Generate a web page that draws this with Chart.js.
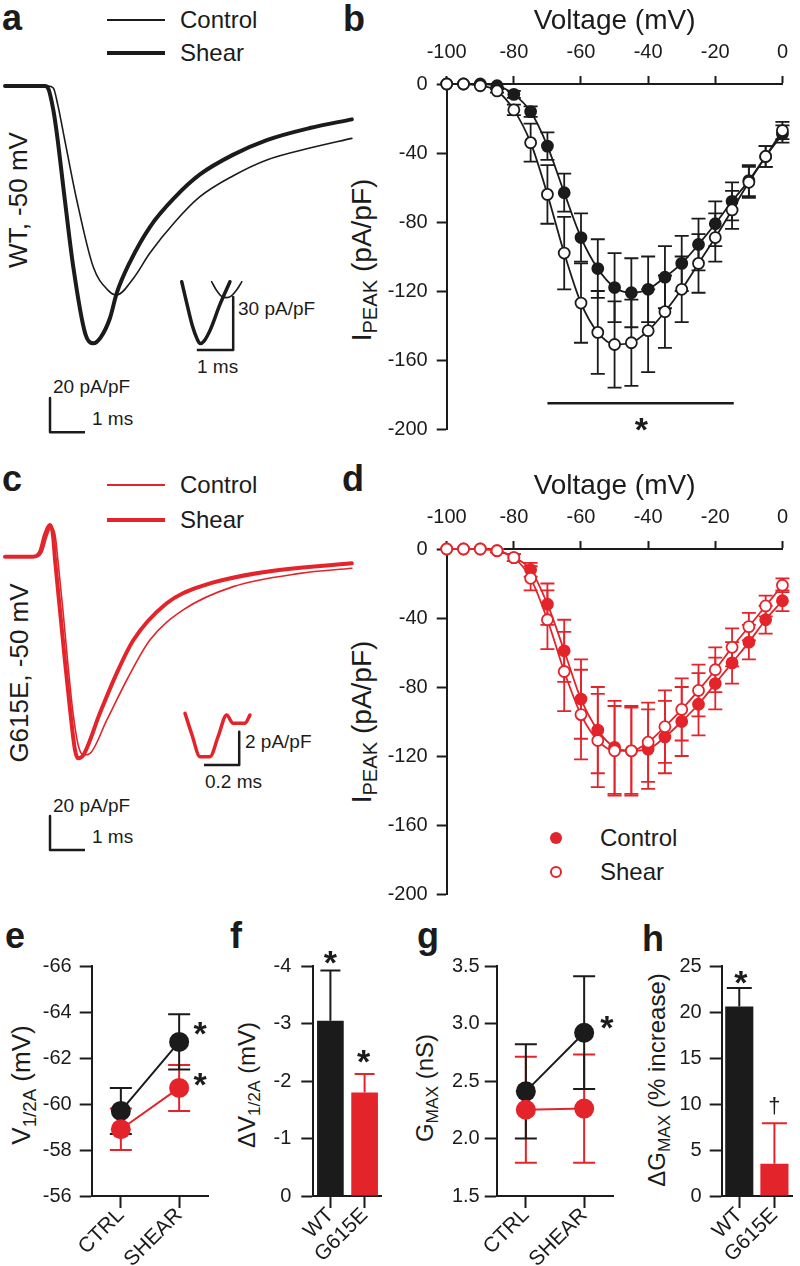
<!DOCTYPE html>
<html>
<head>
<meta charset="utf-8">
<script src="https://cdn.jsdelivr.net/npm/chart.js@4.4.1/dist/chart.umd.min.js"></script>
<style>
  body { margin: 0; background: #fff; }
  #fig { position: relative; width: 800px; height: 1266px; overflow: hidden;
         font-family: 'Liberation Sans', Arial, sans-serif; color: #1b1b1b; }
  #fig canvas { position: absolute; }
  .t { position: absolute; line-height: 1; white-space: nowrap; }
  .lt { font-weight: bold; font-size: 36px; }
  .rot { transform: translate(-50%, -50%) rotate(-90deg); }
  .t sub { font-size: 0.72em; vertical-align: -0.3em; line-height: 0; }
  .sw { position: absolute; }
</style>
</head>
<body>
<div id="fig">
  <!-- panel letters -->
  <div class="t lt" style="left:2px;top:0px">a</div>
  <div class="t lt" style="left:343px;top:1px">b</div>
  <div class="t lt" style="left:2px;top:461px">c</div>
  <div class="t lt" style="left:342px;top:461px">d</div>
  <div class="t lt" style="left:5px;top:918px">e</div>
  <div class="t lt" style="left:230px;top:918px">f</div>
  <div class="t lt" style="left:417px;top:918px">g</div>
  <div class="t lt" style="left:642px;top:921px">h</div>

  <!-- legend a -->
  <div class="sw" style="left:107px;top:19px;width:58px;height:1.6px;background:#1b1b1b"></div>
  <div class="sw" style="left:107px;top:51px;width:58px;height:4px;background:#1b1b1b"></div>
  <div class="t" style="left:180px;top:8px;font-size:24px">Control</div>
  <div class="t" style="left:180px;top:41px;font-size:24px">Shear</div>
  <div class="t rot" style="left:18px;top:200px;font-size:26px">WT, -50 mV</div>
  <div class="t" style="left:238px;top:299px;font-size:19px">30 pA/pF</div>
  <div class="t" style="left:197px;top:357px;font-size:19px">1 ms</div>
  <div class="t" style="left:53px;top:377px;font-size:19px">20 pA/pF</div>
  <div class="t" style="left:92px;top:409px;font-size:19px">1 ms</div>

  <!-- legend c -->
  <div class="sw" style="left:107px;top:484px;width:58px;height:1.6px;background:#e3242b"></div>
  <div class="sw" style="left:107px;top:518px;width:58px;height:4px;background:#e3242b"></div>
  <div class="t" style="left:180px;top:473px;font-size:24px">Control</div>
  <div class="t" style="left:180px;top:508px;font-size:24px">Shear</div>
  <div class="t rot" style="left:19px;top:673px;font-size:26px">G615E, -50 mV</div>
  <div class="t" style="left:245px;top:732px;font-size:19px">2 pA/pF</div>
  <div class="t" style="left:205px;top:772px;font-size:19px">0.2 ms</div>
  <div class="t" style="left:53px;top:796px;font-size:19px">20 pA/pF</div>
  <div class="t" style="left:92px;top:827px;font-size:19px">1 ms</div>

  <!-- I-V y titles -->
  <div class="t rot" style="left:362px;top:260px;font-size:28px">I<sub>PEAK</sub> (pA/pF)</div>
  <div class="t rot" style="left:362px;top:722px;font-size:28px">I<sub>PEAK</sub> (pA/pF)</div>

  <!-- legend d -->
  <div class="sw" style="left:549.7px;top:832.3px;width:12px;height:12px;border-radius:50%;background:#e3242b"></div>
  <div class="sw" style="left:549.7px;top:865.7px;width:12px;height:12px;border-radius:50%;background:#fff;border:2px solid #e3242b;box-sizing:border-box"></div>
  <div class="t" style="left:600px;top:826px;font-size:24px">Control</div>
  <div class="t" style="left:600px;top:860px;font-size:24px">Shear</div>

  <!-- bottom row titles -->
  <div class="t rot" style="left:21px;top:1085px;font-size:26px">V<sub>1/2A</sub> (mV)</div>
  <div class="t rot" style="left:247px;top:1085px;font-size:24px">&Delta;V<sub>1/2A</sub> (mV)</div>
  <div class="t rot" style="left:425px;top:1088px;font-size:24px">G<sub>MAX</sub> (nS)</div>
  <div class="t rot" style="left:657px;top:1080px;font-size:24px">&Delta;G<sub>MAX</sub> (% increase)</div>
</div>

<script>
// ---- panel a: WT traces at -50 mV (ms, pA/pF)
const aShearT = [0, 1.14, 1.23, 1.38, 1.48, 1.71, 1.95, 2.29, 2.52, 2.74, 3.0, 3.19, 3.57, 4.14, 4.86, 5.57, 6.51, 7.48, 8.71, 9.91];
const aShearI = [0, 0, -1.2, -14, -27.8, -67, -106.3, -145.4, -151.3, -147.6, -136.4, -121.9, -103.5, -82.9, -65.3, -52, -40.5, -31.8, -24.7, -19.6];
const aCtrlT = [0, 1.23, 1.38, 1.51, 1.67, 2.05, 2.52, 2.94, 3.19, 3.67, 4.14, 4.86, 5.57, 6.51, 7.48, 8.71, 9.91];
const aCtrlI = [0, 0, -1.2, -11.2, -27.8, -67, -106.3, -120, -122.9, -113, -98.2, -79.8, -65.1, -52.9, -43.5, -36.5, -30.8];
const aBarT = [1.286, 1.286, 2.286];
const aBarI = [-183.5, -203.5, -203.5];
// panel a inset (peak region)
const aInShearT = [0, 0.15, 0.29, 0.43, 0.51, 0.62, 0.79, 1.06, 1.34];
const aInShearI = [-116, -129, -140.5, -148.5, -151, -149.6, -143.4, -129, -116];
const aInCtrlT = [0.83, 0.97, 1.12, 1.25, 1.38, 1.53, 1.67];
const aInCtrlI = [-116, -121, -124.5, -125, -124, -120.6, -116];
const aInBarT = [1.43, 1.43, 0.42];
const aInBarI = [-124.7, -154.7, -154.7];

// ---- panel c: G615E traces at -50 mV
const cShearT = [0, 0.8, 1.0, 1.14, 1.29, 1.37, 1.43, 1.57, 1.71, 1.86, 2.0, 2.09, 2.24, 2.71, 3.19, 3.67, 4.62, 5.57, 7.48, 9.91];
const cShearI = [0, 0, 2.8, 12.8, 18.6, 12.8, -1.9, -31.3, -60.8, -90.2, -113.7, -118.5, -116.6, -92.1, -68.6, -49, -27.4, -17.6, -8.8, -3.9];
const cCtrlT = [0, 0.89, 1.06, 1.2, 1.31, 1.43, 1.51, 1.66, 1.8, 1.94, 2.09, 2.24, 2.43, 2.91, 3.48, 4.14, 5.09, 6.52, 8.43, 9.91];
const cCtrlI = [0, 0, 2.8, 12.2, 16.9, 12.8, -1.9, -32.5, -63.7, -91.3, -110.7, -116.6, -115.6, -96, -72.5, -49, -31.3, -17.6, -9.8, -6.8];
const cBarT = [1.286, 1.286, 2.286];
const cBarI = [-152.5, -172.5, -172.5];
const cInT = [0, 0.04, 0.085, 0.142, 0.188, 0.237, 0.273, 0.341, 0.369];
const cInI = [-115.8, -117.1, -118.4, -118.4, -117.2, -115.9, -116.4, -116.4, -115.9];
const cInBarT = [0.308, 0.308, 0.108];
const cInBarI = [-116.9, -118.9, -118.9];

// ---- panels b, d: I-V relations
const volts = [-100, -95, -90, -85, -80, -75, -70, -65, -60, -55, -50, -45, -40, -35, -30, -25, -20, -15, -10, -5, 0];
const bCtrl = [0, 0, 0, -1, -6, -16, -36, -63, -89, -107, -118, -121, -119, -112, -104, -93, -81, -68, -56, -42, -29];
const bCtrlErr = [0, 0, 0, 1, 2, 3, 8, 11, 14, 17, 20, 20, 19, 18, 16, 15, 13, 11, 9, 6, 5];
const bShear = [0, 0, -1, -4, -15, -34, -64, -98, -127, -144, -151, -150, -143, -132, -119, -104, -89, -73, -57, -42, -27];
const bShearErr = [0, 0, 0, 1, 3, 11, 17, 21, 23, 24, 25, 25, 24, 21, 19, 17, 14, 11, 9, 6, 5];
const bSigV = [-70, -14.5];
const bSigI = [-185, -185];
const dCtrl = [0, 0, 0, -1, -5, -12, -32, -59, -87, -105, -115, -117, -116, -109, -100, -90, -78, -66, -54, -41, -30];
const dCtrlErr = [0, 0, 0, 1, 2, 4, 12, 18, 23, 25, 27, 26, 23, 21, 20, 18, 15, 12, 10, 8, 6];
const dShear = [0, 0, 0, -1, -5, -17, -41, -71, -96, -111, -117, -117, -112, -103, -93, -82, -70, -57, -45, -33, -21];
const dShearErr = [0, 0, 0, 1, 2, 7, 17, 23, 26, 27, 26, 25, 23, 21, 18, 15, 13, 11, 8, 6, 4];

// ---- panels e-h: summary
const condCats = ['CTRL', 'SHEAR'];
const lineCats = ['WT', 'G615E'];
const eWT = [-59.7, -62.7];
const eWTErr = [1.0, 1.2];
const eG615E = [-58.9, -60.7];
const eG615EErr = [0.9, 1.0];
const fDelta = [-3.05, -1.8];
const fDeltaErr = [0.87, 0.32];
const gWT = [2.41, 2.92];
const gWTErr = [0.41, 0.49];
const gG615E = [2.25, 2.26];
const gG615EErr = [0.46, 0.47];
const hDelta = [20.6, 3.5];
const hDeltaErr = [2.0, 4.4];

const ink = '#1b1b1b';
const red = '#e3242b';
const fam = "'Liberation Sans', Arial, sans-serif";

Chart.defaults.font.family = fam;
Chart.defaults.color = ink;
Chart.defaults.animation = false;
Chart.defaults.responsive = false;
Chart.defaults.devicePixelRatio = 1;
Chart.defaults.plugins.legend.display = false;
Chart.defaults.plugins.tooltip.enabled = false;

const pts = (xs, ys) => xs.map((x, i) => ({ x: x, y: ys[i] }));

function canvasAt(left, top, w, h) {
    const c = document.createElement('canvas');
    c.width = w; c.height = h;
    c.style.left = left + 'px'; c.style.top = top + 'px';
    document.getElementById('fig').appendChild(c);
    return c;
}

// error bars drawn under the marks
const errorBars = {
    id: 'errorBars',
    beforeDatasetsDraw(chart) {
        const ctx = chart.ctx;
        const ys = chart.scales.y;
        chart.data.datasets.forEach((ds, i) => {
            if (!ds.errors) return;
            const meta = chart.getDatasetMeta(i);
            const side = ds.errSide || 'both';
            const c = (ds.capWidth || 14) / 2;
            ctx.save();
            ctx.lineWidth = ds.errWidth || 2;
            meta.data.forEach((el, j) => {
                const e = ds.errors[j];
                if (!e) return;
                const raw = ds.data[j];
                const v = typeof raw === 'object' ? raw.y : raw;
                const hi = side === 'minus' ? v : v + e;
                const lo = side === 'plus' ? v : v - e;
                const y1 = ys.getPixelForValue(hi);
                const y2 = ys.getPixelForValue(lo);
                ctx.strokeStyle = Array.isArray(ds.errColor) ? ds.errColor[j] : ds.errColor;
                ctx.beginPath();
                ctx.moveTo(el.x, y1); ctx.lineTo(el.x, y2);
                if (side !== 'minus') { ctx.moveTo(el.x - c, y1); ctx.lineTo(el.x + c, y1); }
                if (side !== 'plus') { ctx.moveTo(el.x - c, y2); ctx.lineTo(el.x + c, y2); }
                ctx.stroke();
            });
            ctx.restore();
        });
    }
};

// significance symbols placed on the chart's own scales
const marks = {
    id: 'marks',
    afterDatasetsDraw(chart, args, opts) {
        const ctx = chart.ctx;
        (opts.items || []).forEach(m => {
            const size = m.size || 34;
            const x = chart.scales.x.getPixelForValue(m.x) + (m.dx || 0);
            const y = chart.scales.y.getPixelForValue(m.y) + (m.mid || 0.57) * size;
            ctx.save();
            ctx.fillStyle = ink;
            ctx.font = (m.weight || 'bold') + ' ' + size + 'px ' + fam;
            ctx.textAlign = 'center';
            ctx.textBaseline = 'alphabetic';
            ctx.fillText(m.text, x, y);
            ctx.restore();
        });
    }
};

function axisStyle(extra) {
    const a = {
        grid: { display: true, drawOnChartArea: false, drawTicks: true, tickLength: 10, tickWidth: 2, tickColor: ink, color: ink, offset: false },
        border: { display: true, color: ink, width: 2 },
        ticks: { color: ink, font: { size: 20 }, padding: 8 }
    };
    for (const k in extra) {
        if (a[k] && typeof extra[k] === 'object' && !Array.isArray(extra[k])) Object.assign(a[k], extra[k]);
        else a[k] = extra[k];
    }
    return a;
}

// ---- trace panels (a, c)
function traceChart(canvas, sets, xr, yr) {
    return new Chart(canvas, {
        type: 'line',
        data: { datasets: sets },
        options: {
            layout: { padding: 0 },
            elements: { point: { radius: 0 } },
            scales: {
                x: { type: 'linear', display: false, min: xr[0], max: xr[1] },
                y: { type: 'linear', display: false, min: yr[0], max: yr[1] }
            }
        }
    });
}
function trace(xs, ys, color, width, smooth) {
    return { data: pts(xs, ys), borderColor: color, borderWidth: width, pointRadius: 0, clip: false,
             cubicInterpolationMode: smooth ? 'monotone' : 'default', tension: 0,
             borderJoinStyle: 'round', borderCapStyle: smooth ? 'round' : 'butt' };
}

traceChart(canvasAt(0, 40, 360, 410), [
    trace(aShearT, aShearI, ink, 4, true),
    trace(aCtrlT, aCtrlI, ink, 1.6, true),
    trace(aBarT, aBarI, ink, 2.5, false)
], [-0.143, 10.143], [-214.0, 27.05]);

traceChart(canvasAt(170, 270, 80, 90), [
    trace(aInShearT, aInShearI, ink, 3.5, true),
    trace(aInCtrlT, aInCtrlI, ink, 1.6, true),
    trace(aInBarT, aInBarI, ink, 2.5, false)
], [-0.325, 1.897], [-160.32, -109.38]);

traceChart(canvasAt(0, 500, 360, 400), [
    trace(cShearT, cShearI, red, 4, true),
    trace(cCtrlT, cCtrlI, red, 1.6, true),
    trace(cBarT, cBarI, ink, 2.5, false)
], [-0.143, 10.143], [-201.86, 33.34]);

traceChart(canvasAt(180, 700, 75, 75), [
    trace(cInT, cInI, red, 3.5, true),
    trace(cInBarT, cInBarI, ink, 2.5, false)
], [-0.0284, 0.3977], [-119.5, -115.0]);

// ---- I-V panels (b, d)
function ivChart(top, ctrl, ctrlErr, shear, shearErr, col, extraSets, items) {
    const sets = [
        { data: pts(volts, shear), showLine: false, pointRadius: 5.5, pointBorderWidth: 1.8,
          pointBackgroundColor: '#fff', pointBorderColor: col, clip: false,
          errors: shearErr, errColor: col, errWidth: 1.8, capWidth: 14 },
        { data: pts(volts, ctrl), showLine: false, pointRadius: 5.5, pointBorderWidth: 1.8,
          pointBackgroundColor: col, pointBorderColor: col, clip: false,
          errors: ctrlErr, errColor: col, errWidth: 1.8, capWidth: 14 },
        { data: pts(volts, shear), showLine: true, pointRadius: 0, borderColor: col, borderWidth: 1.8,
          cubicInterpolationMode: 'monotone', clip: false },
        { data: pts(volts, ctrl), showLine: true, pointRadius: 0, borderColor: col, borderWidth: 1.8,
          cubicInterpolationMode: 'monotone', clip: false }
    ].concat(extraSets);
    return new Chart(canvasAt(340, top, 460, 450), {
        type: 'scatter',
        data: { datasets: sets },
        options: {
            layout: { padding: { left: 0, top: 0, right: 8.3, bottom: 19.3 } },
            scales: {
                x: axisStyle({
                    type: 'linear', position: 'top', min: -100, max: 0,
                    ticks: { stepSize: 20, padding: 12 },
                    grid: { tickLength: 8 },
                    title: { display: true, text: 'Voltage (mV)', color: ink, font: { size: 28 }, padding: { top: 4, bottom: 0 } },
                    afterFit: s => { s.height = 84; }
                }),
                y: axisStyle({
                    type: 'linear', min: -200, max: 0,
                    ticks: { stepSize: 40, padding: 9 },
                    afterFit: s => { s.width = 106.7; }
                })
            },
            plugins: { marks: { items: items } }
        },
        plugins: [errorBars, marks]
    });
}

ivChart(0, bCtrl, bCtrlErr, bShear, bShearErr, ink, [
    { data: pts(bSigV, bSigI), showLine: true, pointRadius: 0, borderColor: ink, borderWidth: 2.5, clip: false }
], [{ x: -42, y: -196, text: '*' }]);

ivChart(465, dCtrl, dCtrlErr, dShear, dShearErr, red, [], []);

// ---- summary panels (e-h)
function catAxis(labels) {
    return axisStyle({
        type: 'category', labels: labels, offset: true,
        grid: { tickLength: 12, offset: false },
        ticks: { minRotation: 45, maxRotation: 45, autoSkip: false, padding: -5, font: { size: 21 } },
        afterFit: s => { s.height = 70; }
    });
}
function summaryChart(left, width, yWidth, padRight, type, sets, yOpts, items) {
    return new Chart(canvasAt(left, 940, width, 326), {
        type: type,
        data: { labels: type === 'bar' ? lineCats : condCats, datasets: sets },
        options: {
            layout: { padding: { left: 0, top: 26, right: padRight, bottom: 0 } },
            scales: {
                x: catAxis(type === 'bar' ? lineCats : condCats),
                y: axisStyle(Object.assign({
                    type: 'linear',
                    grid: { tickLength: 12 },
                    afterFit: s => { s.width = yWidth; }
                }, yOpts))
            },
            plugins: { marks: { items: items } }
        },
        plugins: [errorBars, marks]
    });
}
function pairSet(values, errs, col) {
    return { data: values, borderColor: col, borderWidth: 2, pointRadius: 10, pointBackgroundColor: col,
             pointBorderColor: col, pointBorderWidth: 0, clip: false,
             errors: errs, errColor: col, errWidth: 2, capWidth: 22 };
}

summaryChart(0, 230, 91.7, 21.7, 'line', [
    pairSet(eG615E, eG615EErr, red),
    pairSet(eWT, eWTErr, ink)
], { min: -66, max: -56, reverse: true, ticks: { stepSize: 2, padding: 8 } },
   [{ x: 1, y: -63.4, dx: 21, text: '*' }, { x: 1, y: -61.2, dx: 21, text: '*' }]);

summaryChart(230, 170, 83.3, 18.3, 'bar', [
    { data: fDelta, backgroundColor: [ink, red], borderWidth: 0, barPercentage: 0.78, categoryPercentage: 1,
      errors: fDeltaErr, errSide: 'minus', errColor: [ink, red], errWidth: 2, capWidth: 20 }
], { min: -4, max: 0, reverse: true, ticks: { stepSize: 1, padding: 10 } },
   [{ x: 0, y: -4.19, text: '*' }, { x: 1, y: -2.47, dx: -1, text: '*' }]);

summaryChart(400, 230, 96.7, 16.7, 'line', [
    pairSet(gG615E, gG615EErr, red),
    pairSet(gWT, gWTErr, ink)
], { min: 1.5, max: 3.5, ticks: { stepSize: 0.5, padding: 5, callback: v => v.toFixed(1) } },
   [{ x: 1, y: 3.03, dx: 22.7, text: '*' }]);

summaryChart(630, 170, 91.7, 8, 'bar', [
    { data: hDelta, backgroundColor: [ink, red], borderWidth: 0, barPercentage: 0.8, categoryPercentage: 1,
      errors: hDeltaErr, errSide: 'plus', errColor: [ink, red], errWidth: 2, capWidth: 25 }
], { min: 0, max: 25, ticks: { stepSize: 5, padding: 8 } },
   [{ x: 0, y: 24.1, dx: 1.5, text: '*' }, { x: 1, y: 9.7, text: '\u2020', weight: 'normal', size: 22, mid: 0.3 }]);
</script>
</body>
</html>
